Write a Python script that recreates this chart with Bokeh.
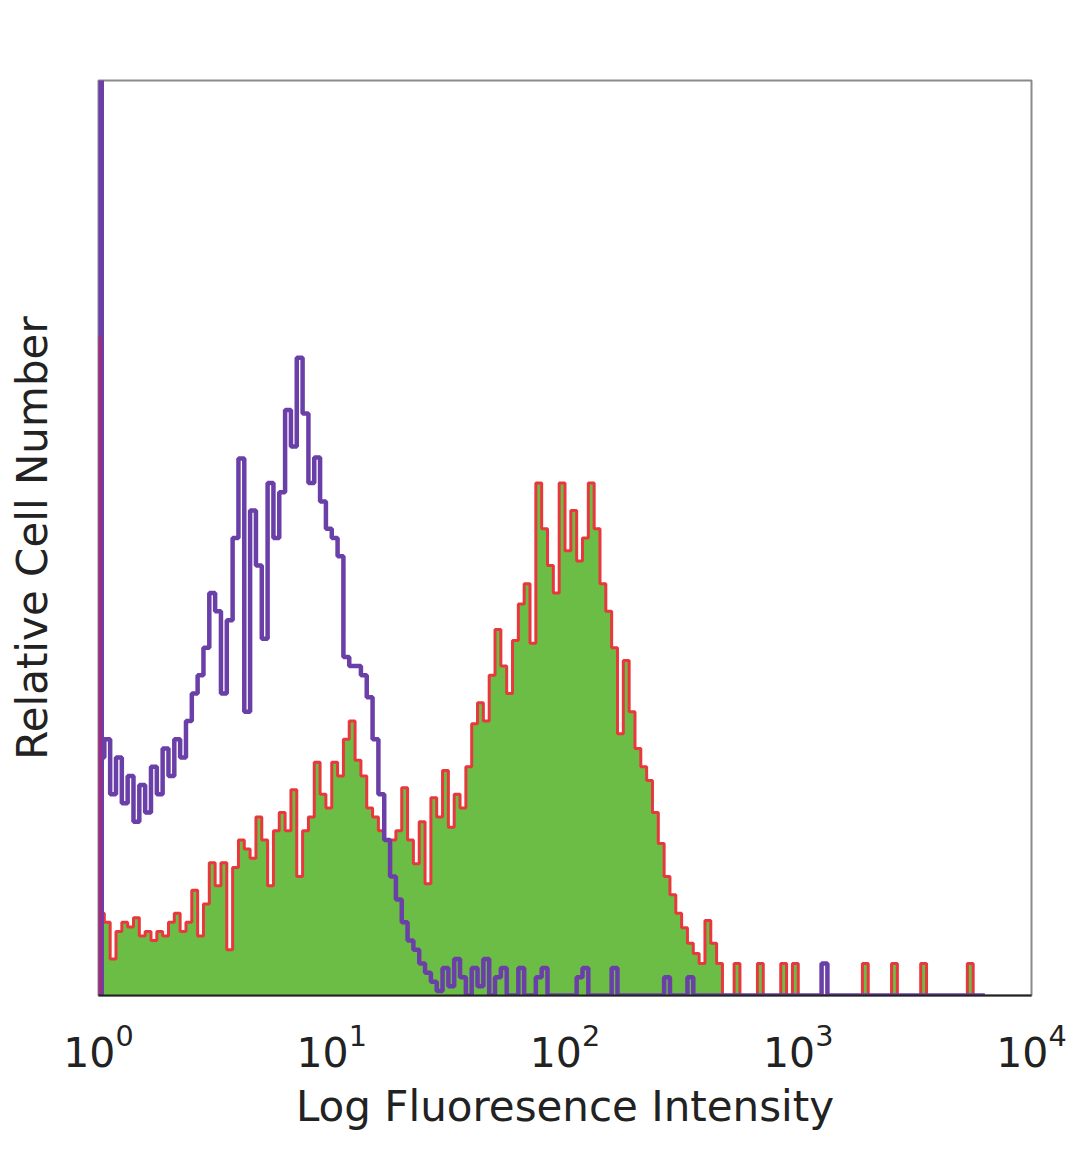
from bokeh.plotting import figure
from bokeh.models import Range1d, LogTicker, FixedTicker
from bokeh.embed import file_html
from bokeh.resources import INLINE

# histogram channel step (in decades) and data
bin_step = 0.025

# off-scale first channel (at 10^0)
offscale_purple = 110
offscale_red = 72

# isotype control (purple outline)
purple_counts = [
    26, 28, 22, 26, 21, 24, 19, 23, 20, 25,
    22, 27, 24, 28, 26, 30, 33, 35, 38, 44,
    42, 33, 41, 50, 58.7, 31, 53, 47, 39, 56,
    50, 55, 64, 60, 69.7, 63.6, 56, 58.8, 54, 51,
    50, 48, 37, 36, 36, 35, 32.6, 28, 22, 17,
    13, 10.5, 8, 6, 5, 3.5, 2.5, 1.5, 0.5, 3,
    1, 4, 2, 0, 3, 1, 4, 0, 2, 3,
    0, 0, 3, 0, 0, 2, 3, 0, 0, 0,
    0, 0, 2, 3, 0, 0, 0, 0, 3, 0,
    0, 0, 0, 0, 0, 0, 0, 2, 0, 0,
    0, 2, 0, 0, 0, 0, 0, 0, 0, 0,
    0, 0, 0, 0, 0, 0, 0, 0, 0, 0,
    0, 0, 0, 0, 3.5, 0, 0, 0, 0, 0,
    0, 0, 0, 0, 0, 0, 0, 0, 0, 0,
    0, 0, 0, 0, 0, 0, 0, 0, 0, 0,
    0, 0,
]

# stained sample (green fill, red outline)
green_counts = [
    9, 8, 4, 7, 8, 7.5, 8.5, 6.5, 7, 6,
    7, 6.5, 8, 9, 7, 8, 11.5, 6.5, 10, 14.5,
    12, 14.5, 5, 14, 17, 16, 15, 19.5, 17, 12,
    18, 20, 18, 22.5, 13, 18, 19.5, 25.5, 22, 20.5,
    25.5, 24, 28, 30, 25.7, 24, 20.5, 19.5, 18, 17,
    17, 18, 22.7, 17, 14.4, 19, 12.2, 21.6, 19.5, 24.6,
    18.4, 22, 20.5, 25, 29.7, 32, 30, 35, 40, 36,
    33, 38.8, 42.8, 45, 38.5, 56, 51, 47, 44, 56,
    48.6, 53, 47.5, 50, 56, 51, 45, 42, 38, 28.6,
    36.6, 31, 27, 25, 23.5, 20, 16.6, 13, 11, 9,
    7.4, 5.7, 4.6, 3.5, 8.2, 5.7, 3.5, 0, 0, 3.5,
    0, 0, 0, 3.5, 0, 0, 0, 3.5, 0, 3.5,
    0, 0, 0, 0, 0, 0, 0, 0, 0, 0,
    0, 3.5, 0, 0, 0, 0, 3.5, 0, 0, 0,
    0, 3.5, 0, 0, 0, 0, 0, 0, 0, 3.5,
    0, 0,
]

x_title = "Log Fluoresence Intensity"
y_title = "Relative Cell Number"

PURPLE = "#6a40a8"
RED = "#e8383d"
GREEN = "#6cbd45"
FONT = "DejaVu Sans"

n = len(green_counts)
edges = [10 ** (i * bin_step) for i in range(n + 1)]
g_y = list(green_counts) + [0]
p_y = list(purple_counts) + [0]

p = figure(width=1072, height=1158, x_axis_type="log",
           x_range=Range1d(1, 1e4), y_range=Range1d(0, 100),
           output_backend="svg", toolbar_location=None,
           min_border_left=98, min_border_right=41,
           min_border_top=80, min_border_bottom=163)

p.varea_step(x=edges, y1=[0] * (n + 1), y2=g_y, step_mode="after",
             fill_color=GREEN)
p.step(x=edges, y=g_y, mode="after", line_color=RED, line_width=3)
p.step(x=edges, y=p_y, mode="after", line_color=PURPLE, line_width=4.5)
p.segment(x0=[1], y0=[0], x1=[1], y1=[offscale_purple],
          line_color=PURPLE, line_width=11)
p.segment(x0=[1], y0=[0], x1=[1], y1=[offscale_red],
          line_color="#c0206a", line_width=7, line_alpha=0.6)

p.xgrid.visible = False
p.ygrid.visible = False
p.outline_line_color = "#8a8a8a"
p.outline_line_width = 2

xa = p.xaxis[0]
xa.ticker = LogTicker()
xa.ticker.desired_num_ticks = 5
xa.major_tick_line_color = None
xa.minor_tick_line_color = None
xa.axis_line_color = "#222222"
xa.axis_line_width = 2
xa.major_label_text_font = FONT
xa.major_label_text_font_size = "41px"
xa.major_label_text_color = "#222222"
xa.major_label_standoff = 22
xa.axis_label = x_title
xa.axis_label_text_font = FONT
xa.axis_label_text_font_size = "42px"
xa.axis_label_text_font_style = "normal"
xa.axis_label_text_color = "#222222"
xa.axis_label_standoff = 12

ya = p.yaxis[0]
ya.ticker = FixedTicker(ticks=[])
ya.major_tick_line_color = None
ya.minor_tick_line_color = None
ya.axis_line_color = None
ya.axis_label = y_title
ya.axis_label_text_font = FONT
ya.axis_label_text_font_size = "42px"
ya.axis_label_text_font_style = "normal"
ya.axis_label_text_color = "#222222"
ya.axis_label_standoff = 42

open("out.html", "w").write(file_html(p, INLINE))
